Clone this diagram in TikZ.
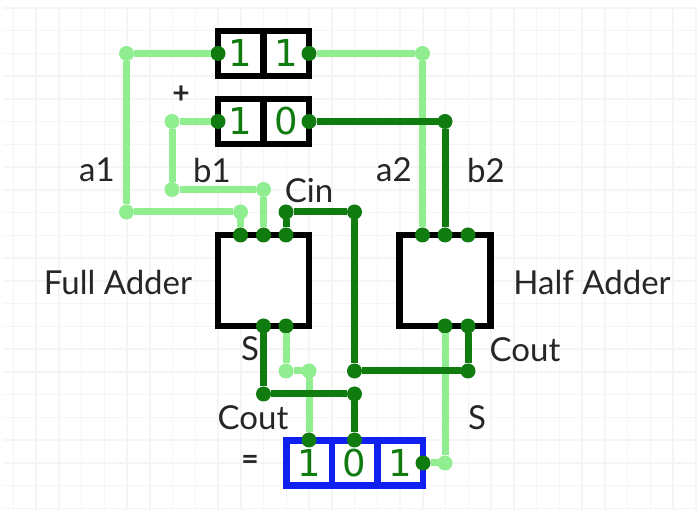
\documentclass[tikz,border=0pt]{standalone}
\usepackage{fontspec}
\setmainfont{Lato}
\newfontfamily\digitfont{DejaVu Sans}
\usetikzlibrary{positioning}
\definecolor{WireDark}{RGB}{16,124,16}
\definecolor{WireLight}{RGB}{144,238,144}
\definecolor{GridGray}{RGB}{245,245,245}

\begin{document}
\begin{tikzpicture}[
    x=1pt, y=-1pt,
    node distance=0pt,
    cell/.style={draw=black, fill=white, line width=6.5pt, outer sep=0pt, inner sep=0pt, minimum width=45.5pt, minimum height=45pt, text=WireDark, font=\digitfont\fontsize{37}{37}\selectfont},
    sumcell/.style={cell, draw={rgb,255:red,16;green,32;blue,240}},
    adder/.style={draw=black, fill=white, line width=6.5pt, outer sep=0pt, minimum width=91pt, minimum height=91pt},
    pin/.style={circle, fill=WireDark, inner sep=0pt, outer sep=0pt, minimum size=15pt},
    bendlight/.style={circle, fill=WireLight, inner sep=0pt, outer sep=0pt, minimum size=15pt},
    benddark/.style={circle, fill=WireDark, inner sep=0pt, outer sep=0pt, minimum size=15pt},
    lightwire/.style={draw=WireLight, line width=7pt},
    darkwire/.style={draw=WireDark, line width=7pt},
    lbl/.style={font=\fontsize{33}{33}\selectfont, text=black!85, inner sep=0pt},
    sign/.style={font=\bfseries\fontsize{30}{30}\selectfont, text=black!85, inner sep=0pt}
]
    \useasboundingbox (0,0) rectangle (697,510);
    \fill[white] (0,0) rectangle (697,510);
    \foreach \i in {0,...,30} \draw[GridGray, line width=1.5pt] ({13.3+22.75*\i},8) -- ({13.3+22.75*\i},510);
    \foreach \j in {0,...,22} \draw[GridGray, line width=1.5pt] (4,{8+22.75*\j}) -- (697,{8+22.75*\j});

    % registers
    \node[cell] (aleft) at (240.75,53.5) {1};
    \node[cell, right=of aleft] (aright) {1};
    \node[cell] (bleft) at (240.75,121.5) {1};
    \node[cell, right=of bleft] (bright) {0};
    \node[sumcell] (sumleft) at (309,463) {1};
    \node[sumcell, right=of sumleft] (summid) {0};
    \node[sumcell, right=of summid] (sumright) {1};

    % adders
    \node[adder] (fa) at (263.5,280.5) {};
    \node[adder] (ha) at (445,280.5) {};

    % pins
    \node[pin] (pa1) at (218,53.5) {};
    \node[pin] (pa2) at (309,53.5) {};
    \node[pin] (pb1) at (218,121.5) {};
    \node[pin] (pb2) at (309,121.5) {};
    \node[pin] (faa) at (240.5,235) {};
    \node[pin] (fab) at (263.5,235) {};
    \node[pin] (fac) at (286,235) {};
    \node[pin] (fas) at (263.5,326) {};
    \node[pin] (fao) at (286,326) {};
    \node[pin] (haa) at (422.5,235) {};
    \node[pin] (hab) at (445,235) {};
    \node[pin] (hac) at (468,235) {};
    \node[pin] (has) at (445,326) {};
    \node[pin] (hao) at (468,326) {};
    \node[pin] (sa) at (309,440) {};
    \node[pin] (sb) at (354.5,440) {};
    \node[pin] (sc) at (423,463) {};

    % light wires
    \node[bendlight] (l1) at (126.5,53.5) {};
    \node[bendlight] (l2) at (126.5,212) {};
    \node[bendlight] (l3) at (240.5,212) {};
    \node[bendlight] (l4) at (172,121.5) {};
    \node[bendlight] (l5) at (172,189.5) {};
    \node[bendlight] (l6) at (263.5,189.5) {};
    \node[bendlight] (l7) at (422.5,53.5) {};
    \node[bendlight] (l8) at (286,371) {};
    \node[bendlight] (l9) at (309,371) {};
    \node[bendlight] (l10) at (445,463) {};
    \draw[lightwire] (pa1) -- (l1) -- (l2) -- (l3) -- (faa);
    \draw[lightwire] (pb1) -- (l4) -- (l5) -- (l6) -- (fab);
    \draw[lightwire] (pa2) -- (l7) -- (haa);
    \draw[lightwire] (fao) -- (l8) -- (l9) -- (sa);
    \draw[lightwire] (has) -- (l10) -- (sc);

    % dark wires
    \node[benddark] (d1) at (445,121.5) {};
    \node[benddark] (d2) at (286,212) {};
    \node[benddark] (d3) at (354.5,212) {};
    \node[benddark] (d4) at (354.5,371) {};
    \node[benddark] (d5) at (468,371) {};
    \node[benddark] (d6) at (263.5,394) {};
    \node[benddark] (d7) at (354.5,394) {};
    \draw[darkwire] (pb2) -- (d1) -- (hab);
    \draw[darkwire] (fac) -- (d2) -- (d3) -- (d4) -- (d5) -- (hao);
    \draw[darkwire] (fas) -- (d6) -- (d7) -- (sb);

    % labels
    \node[lbl] (la1) at (97,170) {a1};
    \node[lbl] (lb1) at (212,170) {b1};
    \node[lbl] (la2) at (394,170) {a2};
    \node[lbl] (lb2) at (486,170) {b2};
    \node[lbl] (lcin) at (309,191) {Cin};
    \node[lbl] (lfa) at (118,282) {Full Adder};
    \node[lbl] (lha) at (592,282) {Half Adder};
    \node[lbl] (ls1) at (250,349) {S};
    \node[lbl] (lc1) at (525,350) {Cout};
    \node[lbl] (lc2) at (253,418) {Cout};
    \node[lbl] (ls2) at (477,418) {S};
    \node[sign] (lplus) at (181,95) {+};
    \node[sign] (leq) at (250,462) {=};
\end{tikzpicture}
\end{document}
